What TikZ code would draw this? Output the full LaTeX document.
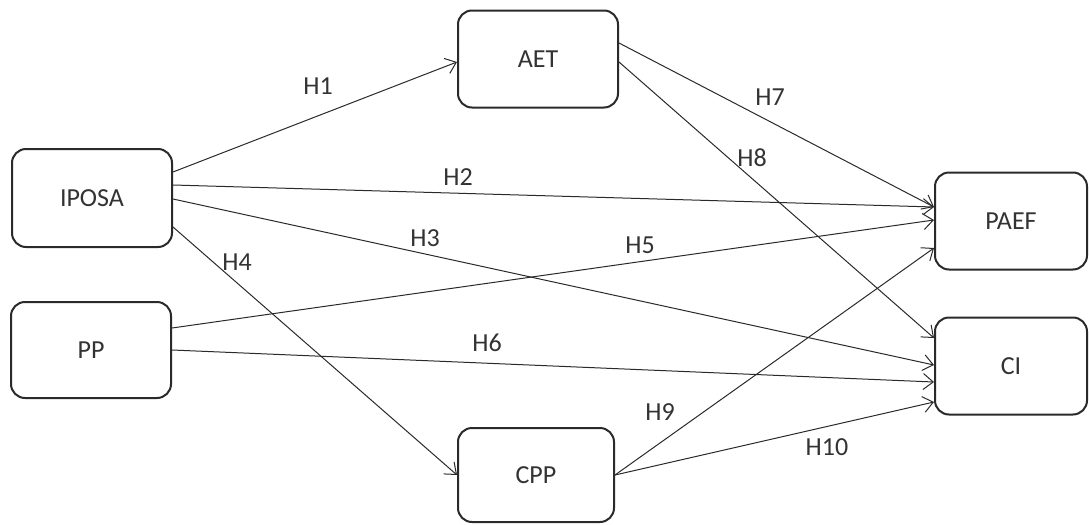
\documentclass[tikz,border=0pt]{standalone}
\usepackage{fontspec}
\setmainfont{Carlito}
\usepackage{tikz}
\usetikzlibrary{arrows.meta,positioning,calc}

\definecolor{inkgray}{HTML}{2A2A2A}
\definecolor{textgray}{HTML}{333333}

\tikzset{
    varbox/.style={draw=inkgray, line width=1pt, rounded corners=7pt, fill=white,
        text=textgray, font=\fontsize{13}{15}\selectfont},
    path/.style={draw=inkgray, line width=0.5pt, -{Straight Barb[length=5pt,width=8pt]}},
    hyp/.style={text=textgray, font=\fontsize{13}{15}\selectfont}
}

\begin{document}
\begin{tikzpicture}[x=0.5pt, y=-0.5pt]
    \useasboundingbox (0,0) rectangle (1089,525);

    % Boxes
    \node[varbox, minimum width=80pt, minimum height=49pt] (iposa) at (92,198) {IPOSA};
    \node[varbox, minimum width=80pt, minimum height=48pt] (pp) at (91,350) {PP};
    \node[varbox, minimum width=80pt, minimum height=48.5pt] (aet) at (538,59) {AET};
    \node[varbox, minimum width=78pt, minimum height=47pt] (cpp) at (536,475) {CPP};
    \node[varbox, minimum width=76pt, minimum height=48.5pt] (paef) at (1011,221) {PAEF};
    \node[varbox, minimum width=76pt, minimum height=48.5pt] (ci) at (1011,366) {CI};

    % Paths
    \draw[path] ($(iposa.east)+(0,-26)$) -- ($(aet.west)+(0,3)$);
    \draw[path] ($(iposa.east)+(0,-13)$) -- ($(paef.west)+(0,-14)$);
    \draw[path] ($(iposa.east)+(0,1)$) -- ($(ci.west)+(0,-1)$);
    \draw[path] ($(iposa.east)+(0,29)$) -- (cpp.west);
    \draw[path] ($(pp.east)+(0,-22)$) -- ($(paef.west)+(0,-1)$);
    \draw[path] (pp.east) -- ($(ci.west)+(0,16)$);
    \draw[path] ($(aet.east)+(0,-16)$) -- ($(paef.west)+(0,-14)$);
    \draw[path] ($(aet.east)+(0,3)$) -- ($(ci.west)+(0,-28)$);
    \draw[path] (cpp.east) -- ($(paef.west)+(0,27)$);
    \draw[path] (cpp.east) -- ($(ci.west)+(0,36)$);

    % Labels
    \node[hyp] (h1) at (318,86) {H1};
    \node[hyp] (h2) at (458,177) {H2};
    \node[hyp] (h3) at (425,238) {H3};
    \node[hyp] (h4) at (237,262) {H4};
    \node[hyp] (h5) at (640,245) {H5};
    \node[hyp] (h6) at (487,343) {H6};
    \node[hyp] (h7) at (770,97) {H7};
    \node[hyp] (h8) at (752,158) {H8};
    \node[hyp] (h9) at (660,412) {H9};
    \node[hyp] (h10) at (827,447) {H10};
\end{tikzpicture}
\end{document}
